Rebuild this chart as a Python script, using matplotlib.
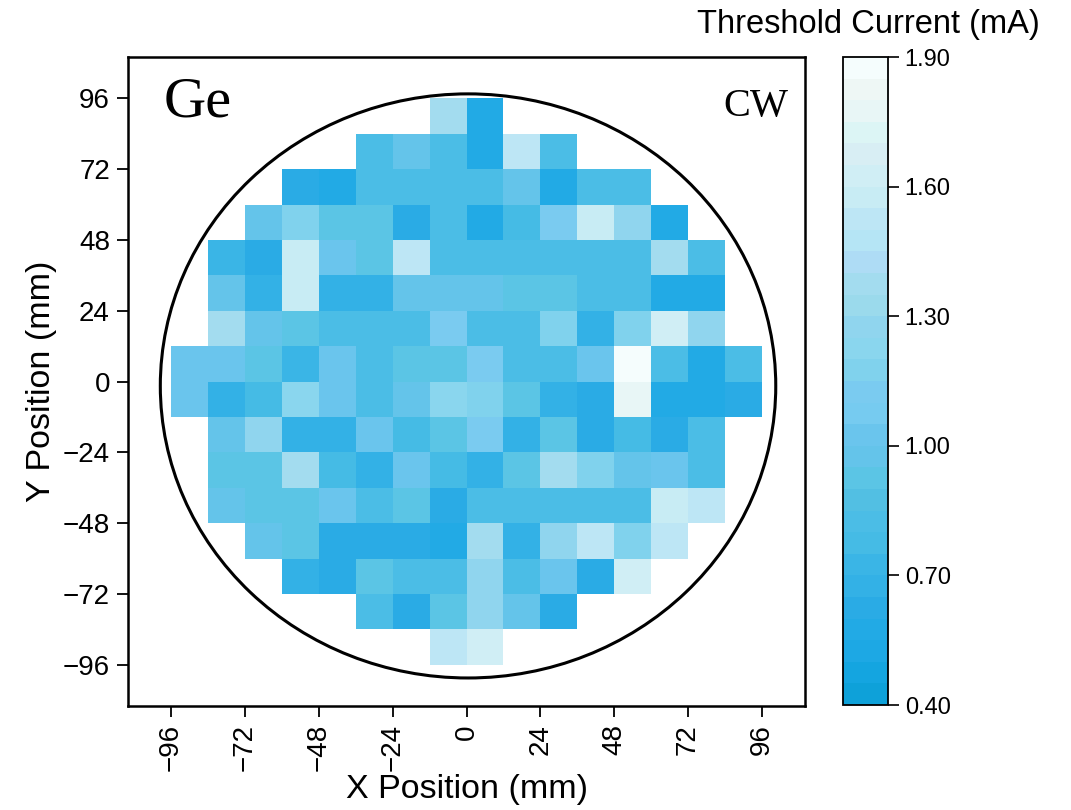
import numpy as np
import matplotlib
matplotlib.use('Agg')
import matplotlib.pyplot as plt
from matplotlib.colors import ListedColormap, BoundaryNorm
from matplotlib.patches import Ellipse

plt.rcParams['font.family'] = ['Liberation Sans', 'DejaVu Sans']

# die rows from top to bottom: row centre y, first die centre x, threshold values (mA)
row_y = [90, 78, 66, 54, 42, 30, 18, 6, -6, -18, -30, -42, -54, -66, -78, -90]
row_x0 = [-6, -30, -54, -66, -78, -78, -78, -90, -90, -78, -78, -78, -66, -54, -30, -6]
row_vals = [
    [1.37, 0.57],
    [0.82, 0.97, 0.82, 0.57, 1.52, 0.82],
    [0.62, 0.57, 0.82, 0.82, 0.82, 0.82, 0.97, 0.57, 0.82, 0.82],
    [0.97, 1.17, 0.92, 0.92, 0.62, 0.82, 0.57, 0.77, 1.12, 1.57, 1.27, 0.57],
    [0.72, 0.62, 1.57, 1.02, 0.92, 1.52, 0.82, 0.82, 0.82, 0.82, 0.82, 0.82, 1.37, 0.82],
    [0.97, 0.67, 1.57, 0.67, 0.67, 0.97, 0.97, 0.97, 0.92, 0.92, 0.82, 0.82, 0.57, 0.57],
    [1.37, 0.97, 0.92, 0.82, 0.82, 0.82, 1.12, 0.82, 0.82, 1.17, 0.67, 1.17, 1.62, 1.27],
    [1.02, 1.02, 0.92, 0.72, 1.02, 0.82, 0.92, 0.92, 1.12, 0.82, 0.82, 1.02, 1.87, 0.82, 0.57, 0.82],
    [1.02, 0.67, 0.77, 1.22, 1.02, 0.82, 0.97, 1.22, 1.17, 0.92, 0.67, 0.62, 1.77, 0.57, 0.57, 0.62],
    [0.97, 1.27, 0.67, 0.67, 1.02, 0.77, 0.92, 1.12, 0.67, 0.92, 0.62, 0.77, 0.62, 0.82],
    [0.92, 0.92, 1.37, 0.77, 0.67, 1.02, 0.77, 0.67, 0.92, 1.37, 1.17, 0.97, 1.02, 0.82],
    [0.97, 0.92, 0.92, 1.02, 0.82, 0.92, 0.62, 0.82, 0.82, 0.82, 0.82, 0.82, 1.57, 1.52],
    [0.97, 0.92, 0.62, 0.62, 0.62, 0.57, 1.37, 0.67, 1.27, 1.52, 1.17, 1.52],
    [0.67, 0.62, 0.92, 0.82, 0.82, 1.27, 0.82, 1.02, 0.62, 1.62],
    [0.82, 0.62, 0.92, 1.27, 0.97, 0.62],
    [1.52, 1.62],
]

cbar_ticks = [0.40, 0.70, 1.00, 1.30, 1.60, 1.90]
axis_ticks = [-96, -72, -48, -24, 0, 24, 48, 72, 96]

# colour bands, low to high (0.05 mA each)
band_colors = ['#0ea1d9', '#14a5e0', '#1da8e4', '#22aae5', '#2aabe5', '#33b1e6',
               '#3ab5e6', '#45bbe5', '#4bbde6', '#52bfe3', '#5bc5e5', '#64c4ea',
               '#6ac5ed', '#76cbf0', '#7acbf0', '#80d2ed', '#8ad6ee', '#90d5ee',
               '#9bdaec', '#a3dcef', '#aedcf5', '#b5e5f5', '#bde6f5', '#c8ecf4',
               '#d0eef5', '#d8eef4', '#dcf5f5', '#e8f6f6', '#eef7f5', '#f5fdfd']

pitch = 12
edges = np.arange(-96, 97, pitch)
grid = np.full((len(edges) - 1, len(edges) - 1), np.nan)
for y, x0, vals in zip(row_y, row_x0, row_vals):
    i = (y + 90) // pitch
    j0 = (x0 + 90) // pitch
    grid[i, j0:j0 + len(vals)] = vals

cmap = ListedColormap(band_colors)
bounds = np.linspace(0.40, 1.90, len(band_colors) + 1)
norm = BoundaryNorm(bounds, cmap.N)

fig = plt.figure(figsize=(10.71, 8.10), dpi=100)
ax = fig.add_axes([128 / 1071, 1 - 706 / 810, 677 / 1071, 649 / 810])
mesh = ax.pcolormesh(edges, edges, grid, cmap=cmap, norm=norm)

ax.add_patch(Ellipse((0.5, -1.5), 200, 198, fill=False, color='black', lw=2.2))

ax.set_xlim(-110, 110)
ax.set_ylim(-110, 110)
ax.set_xticks(axis_ticks)
ax.set_yticks(axis_ticks)
ax.set_xticklabels([str(t).replace('-', '\u2212') for t in axis_ticks], rotation=90)
ax.set_yticklabels([str(t).replace('-', '\u2212') for t in axis_ticks])
ax.tick_params(direction='out', length=8, width=1.3, labelsize=20, pad=5)
for s in ax.spines.values():
    s.set_linewidth(1.8)
ax.set_xlabel('X Position (mm)', fontsize=24.5, labelpad=2)
ax.set_ylabel('Y Position (mm)', fontsize=24.5, labelpad=4)

ax.text(-98.5, 103.5, 'Ge', family=['Liberation Serif'], fontsize=42, va='top', ha='left')
ax.text(104.6, 99.5, 'CW', family=['Liberation Serif'], fontsize=29, va='top', ha='right')

cax = fig.add_axes([843 / 1071, 1 - 705 / 810, 45 / 1071, 648 / 810])
cb = fig.colorbar(mesh, cax=cax, ticks=cbar_ticks)
cb.ax.set_yticklabels(['%.2f' % t for t in cbar_ticks])
cb.ax.tick_params(direction='out', length=8, width=1.2, labelsize=17, pad=4)
cb.ax.minorticks_off()
cb.outline.set_linewidth(1.3)
fig.text(1040 / 1071, 1 - 25 / 810, 'Threshold Current (mA)', fontsize=23.5,
         ha='right', va='center')

fig.savefig('out.png', dpi=100)
